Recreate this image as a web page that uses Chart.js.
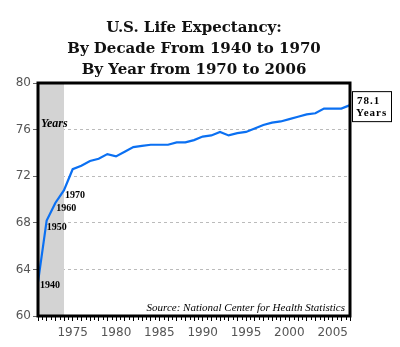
<!DOCTYPE html>
<html>
<head>
<meta charset="utf-8">
<script src="https://cdn.jsdelivr.net/npm/chart.js@4.4.1/dist/chart.umd.min.js"></script>
<style>
  html, body { margin: 0; padding: 0; background: #fff; }
  #wrap { width: 400px; height: 347px; }
</style>
</head>
<body>
<div id="wrap"><canvas id="chart" width="400" height="347"></canvas></div>
<script>
// decade points, drawn inside the shaded band
var decadeYears = ["1940", "1950", "1960", "1970"];
var decadeValues = [62.9, 68.2, 69.7, 70.8];

// yearly points
var yearlyYears = ["1975", "1976", "1977", "1978", "1979", "1980", "1981", "1982", "1983", "1984",
                   "1985", "1986", "1987", "1988", "1989", "1990", "1991", "1992", "1993", "1994",
                   "1995", "1996", "1997", "1998", "1999", "2000", "2001", "2002", "2003", "2004",
                   "2005", "2006", "2007"];
var yearlyValues = [72.6, 72.9, 73.3, 73.5, 73.9, 73.7, 74.1, 74.5, 74.6, 74.7,
                    74.7, 74.7, 74.9, 74.9, 75.1, 75.4, 75.5, 75.8, 75.5, 75.7,
                    75.8, 76.1, 76.4, 76.6, 76.7, 76.9, 77.1, 77.3, 77.4, 77.8,
                    77.8, 77.8, 78.1];

var yTicks = [60, 64, 68, 72, 76, 80];
var xLabelEvery = 5;

var titleLines = ["U.S. Life Expectancy:", "By Decade From 1940 to 1970", "By Year from 1970 to 2006"];
var sourceText = "Source: National Center for Health Statistics";
var bandText = "Years";
var endText = ["78.1", "Years"];

var labels = decadeYears.concat(yearlyYears);
var values = decadeValues.concat(yearlyValues);

var decorations = {
    id: "decorations",
    beforeDatasetsDraw: function (chart) {
        var ctx = chart.ctx, a = chart.chartArea, x = chart.scales.x;
        var edge = x.getPixelForValue(decadeYears.length - 1);
        ctx.save();
        ctx.fillStyle = "#d3d3d3";
        ctx.fillRect(a.left, a.top, edge - a.left, a.bottom - a.top);
        ctx.fillStyle = "#000";
        ctx.font = "italic bold 12px 'Liberation Serif'";
        ctx.textBaseline = "middle";
        ctx.fillText(bandText, a.left + 3, a.top + 41);
        ctx.restore();
    },
    afterDatasetsDraw: function (chart) {
        var ctx = chart.ctx, a = chart.chartArea, x = chart.scales.x, y = chart.scales.y;
        ctx.save();
        ctx.fillStyle = "#000";
        ctx.textBaseline = "middle";

        // decade labels next to their points
        var offs = [[2, 3], [0, 7], [1, 5], [1, 5]];
        ctx.font = "bold 10px 'Liberation Serif'";
        decadeYears.forEach(function (yr, i) {
            var px = x.getPixelForValue(i), py = y.getPixelForValue(decadeValues[i]);
            ctx.fillText(yr, px + offs[i][0], py + offs[i][1]);
        });

        // source note
        ctx.font = "italic 11px 'Liberation Serif'";
        ctx.textAlign = "right";
        ctx.fillText(sourceText, a.right - 5, a.bottom - 8);

        // x-axis minor ticks between categories
        ctx.strokeStyle = "#000";
        ctx.lineWidth = 1;
        for (var i = 0; i < labels.length - 1; i++) {
            var m = Math.round((x.getPixelForValue(i) + x.getPixelForValue(i + 1)) / 2) + 0.5;
            ctx.beginPath();
            ctx.moveTo(m, a.bottom);
            ctx.lineTo(m, a.bottom + 4);
            ctx.stroke();
        }

        // plot frame
        ctx.lineWidth = 3;
        ctx.strokeRect(a.left, a.top, a.right - a.left, a.bottom - a.top);

        // end value box
        var lx = x.getPixelForValue(labels.length - 1);
        var ly = y.getPixelForValue(values[values.length - 1]);
        var bx = lx + 2, by = ly - 14;
        ctx.fillStyle = "#fff";
        ctx.fillRect(bx, by, 39, 30);
        ctx.lineWidth = 1;
        ctx.strokeRect(bx + 0.5, by + 0.5, 39, 30);
        ctx.fillStyle = "#000";
        ctx.textAlign = "left";
        ctx.font = "bold 11px 'Liberation Serif'";
        ctx.letterSpacing = "1px";
        ctx.fillText(endText[0], bx + 5, by + 10);
        ctx.fillText(endText[1], bx + 4, by + 22);
        ctx.restore();
    }
};

new Chart(document.getElementById("chart"), {
    type: "line",
    data: {
        labels: labels,
        datasets: [{
            data: values,
            borderColor: "#0b70f2",
            borderWidth: 2.2,
            pointRadius: 0,
            tension: 0,
            fill: false
        }]
    },
    options: {
        responsive: false,
        animation: false,
        devicePixelRatio: 1,
        layout: { padding: { left: 0, right: 50, top: 0, bottom: 0 } },
        plugins: {
            legend: { display: false },
            tooltip: { enabled: false },
            title: {
                display: true,
                text: titleLines,
                fullSize: false,
                color: "#111",
                font: { family: "'DejaVu Serif'", size: 15, weight: "bold", lineHeight: 1.4 },
                padding: { top: 18, bottom: 2 }
            }
        },
        scales: {
            x: {
                type: "category",
                offset: false,
                afterFit: function (s) { s.height = 31; },
                grid: { drawOnChartArea: false, color: "#000", tickLength: 5 },
                border: { display: false },
                ticks: {
                    autoSkip: false,
                    maxRotation: 0,
                    padding: 5,
                    color: "#555",
                    font: { family: "'DejaVu Sans'", size: 12 },
                    callback: function (v) {
                        var l = this.getLabelForValue(v);
                        return (+l >= 1975 && +l % xLabelEvery === 0) ? l : "";
                    }
                }
            },
            y: {
                min: yTicks[0],
                max: yTicks[yTicks.length - 1],
                afterFit: function (s) { s.width = 38; },
                afterBuildTicks: function (s) {
                    s.ticks = yTicks.map(function (v) { return { value: v }; });
                },
                grid: { color: "#bbb", lineWidth: 1, tickLength: 5, tickColor: "#666", tickBorderDash: [] },
                border: { display: false, dash: [3, 3] },
                ticks: {
                    padding: 2,
                    color: "#555",
                    font: { family: "'DejaVu Sans'", size: 12 }
                }
            }
        }
    },
    plugins: [decorations]
});
</script>
</body>
</html>
